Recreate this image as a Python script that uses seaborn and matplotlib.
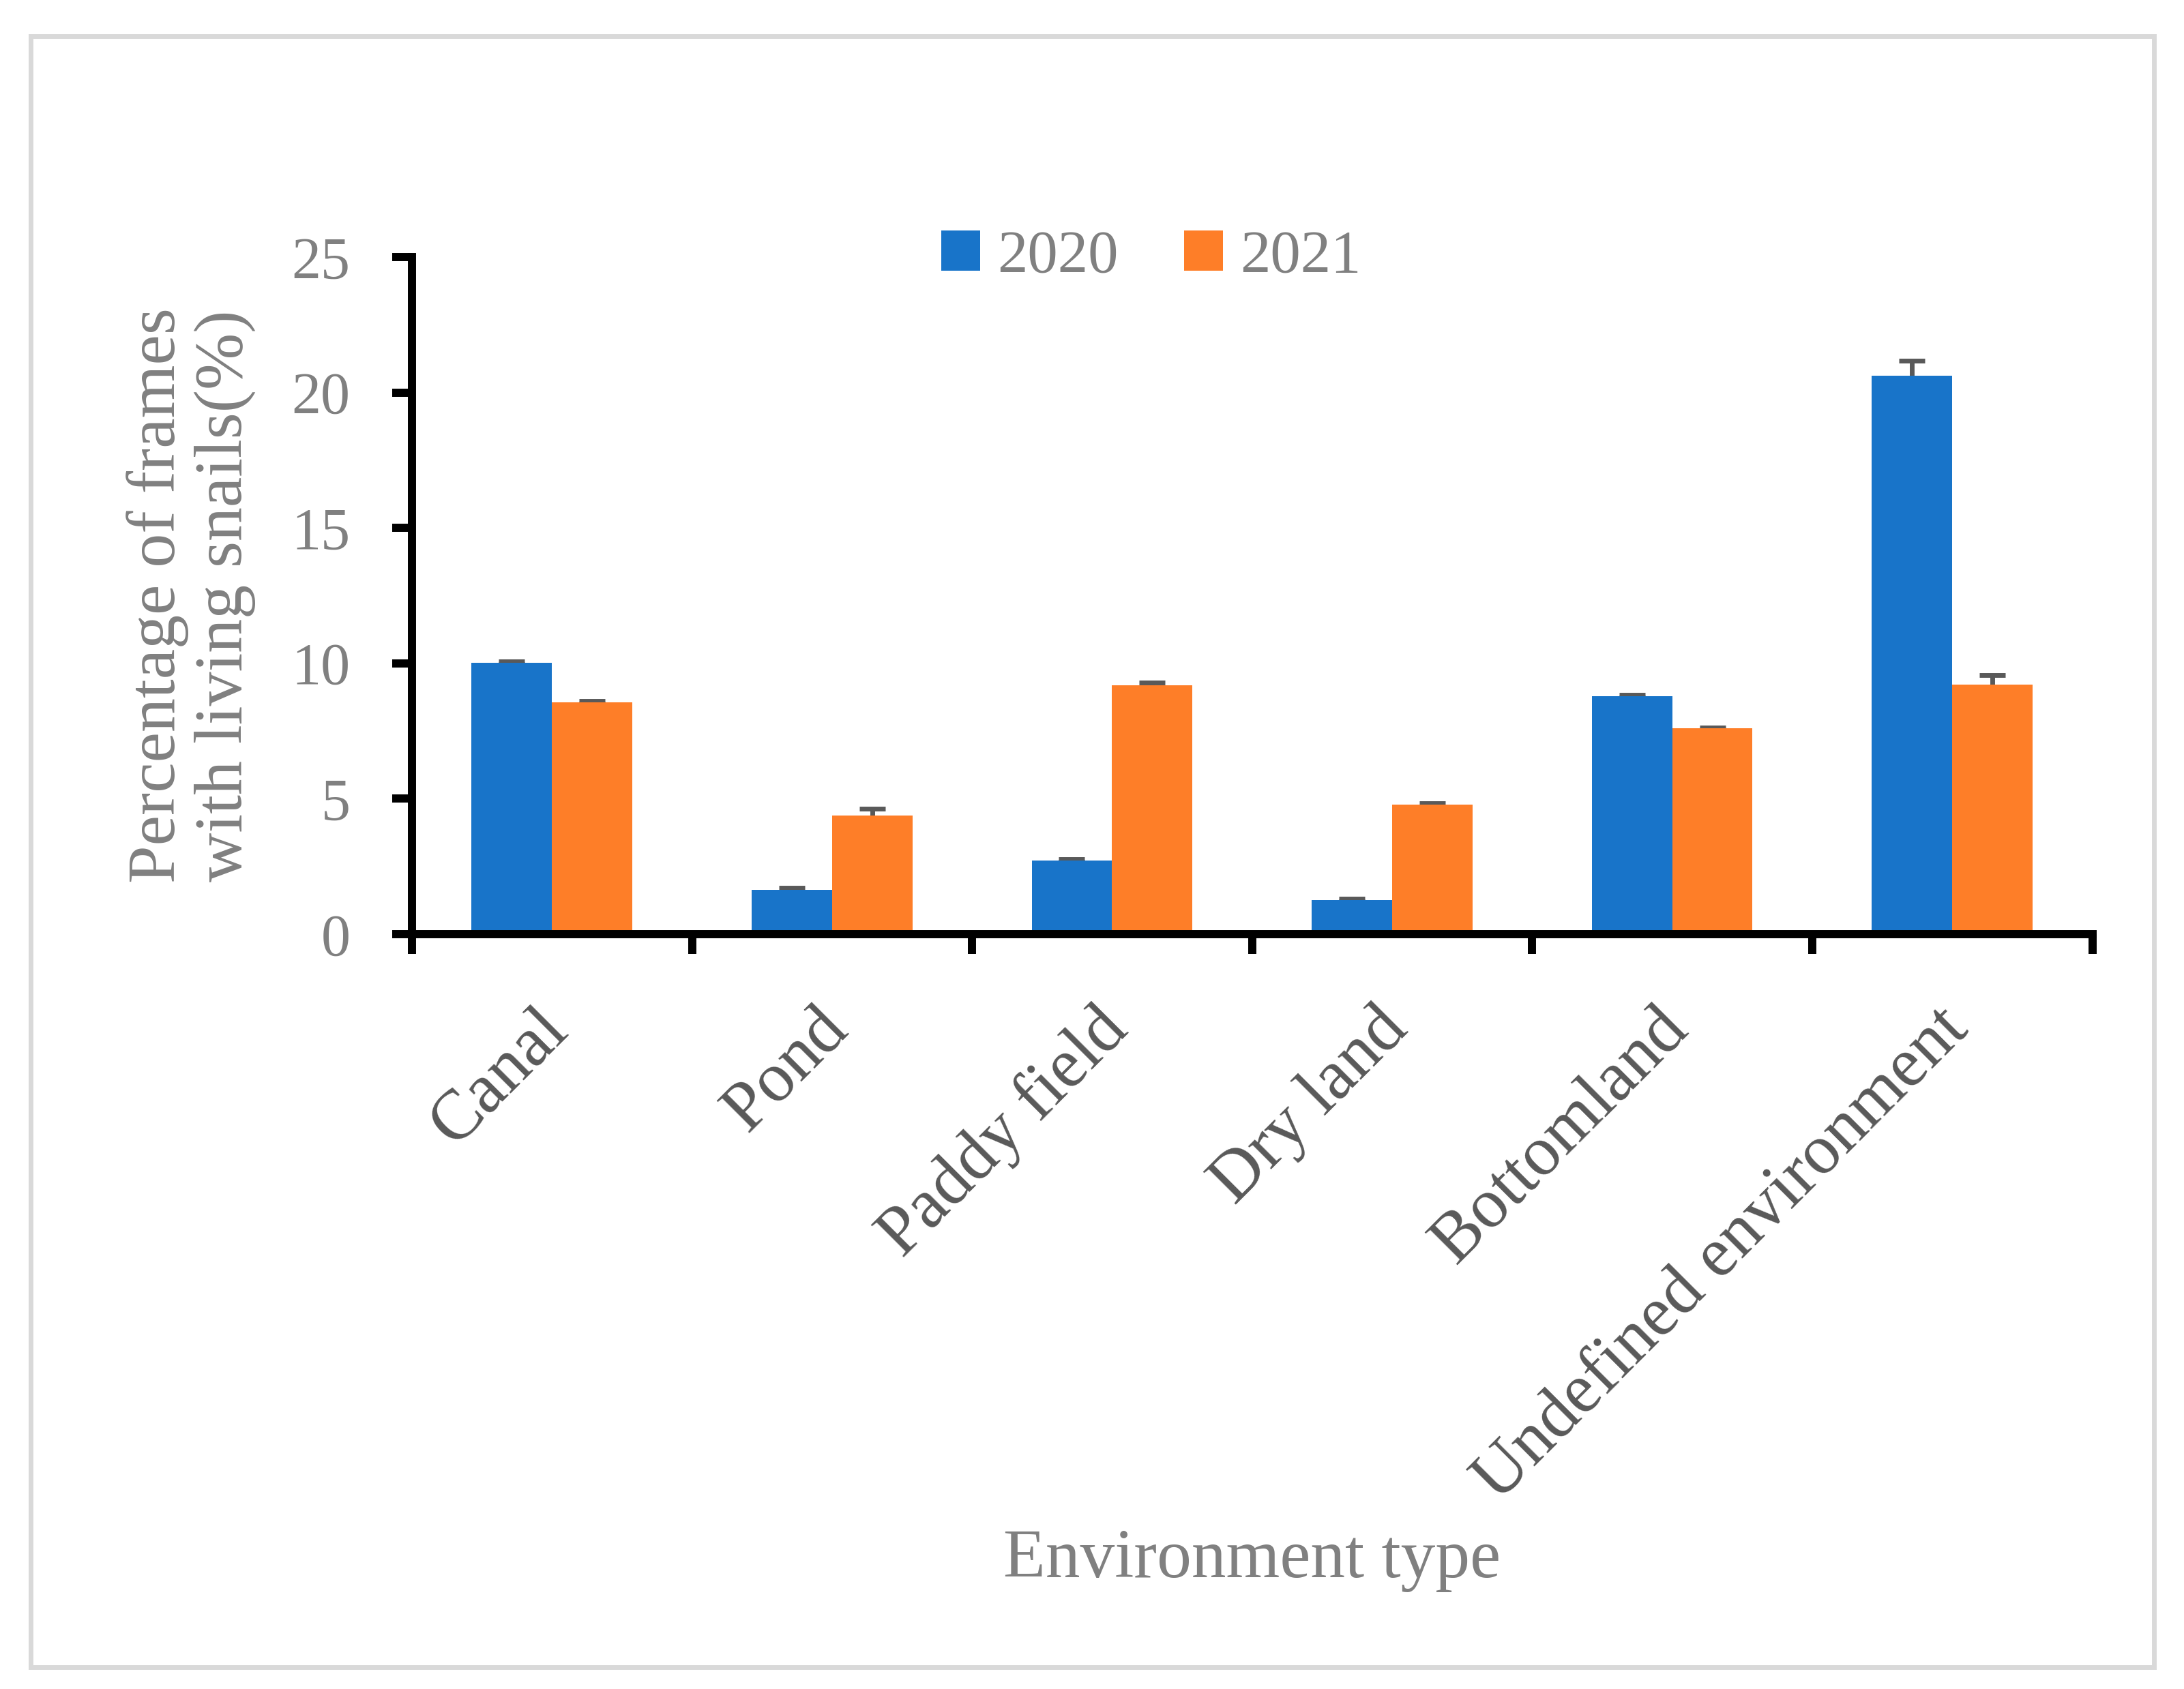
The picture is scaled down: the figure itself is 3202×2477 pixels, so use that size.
import numpy as np
import pandas as pd
import matplotlib
matplotlib.use("Agg")
import matplotlib.pyplot as plt
import seaborn as sns
from matplotlib.patches import Rectangle
from matplotlib.transforms import ScaledTranslation

# ---- data ----
categories = ["Canal", "Pond", "Paddy field", "Dry land", "Bottomland", "Undefined environment"]
years = ["2020", "2021"]
values_2020 = [10.02, 1.64, 2.73, 1.26, 8.79, 20.63]
values_2021 = [8.57, 4.39, 9.20, 4.78, 7.60, 9.22]
err_2020 = [0.06, 0.08, 0.05, 0.04, 0.05, 0.54]
err_2021 = [0.05, 0.24, 0.10, 0.06, 0.04, 0.34]
y_ticks = [0, 5, 10, 15, 20, 25]

df = pd.DataFrame({
    "Environment": categories * 2,
    "Year": [years[0]] * len(categories) + [years[1]] * len(categories),
    "Pct": values_2020 + values_2021,
})

BLUE = "#1874C9"
ORANGE = "#FE7E28"
GRAY = "#808080"
DARK = "#595959"

sns.set_style("white")
plt.rcParams["font.family"] = ["Liberation Serif", "DejaVu Serif"]

fig = plt.figure(figsize=(16.01, 12.385), dpi=200)
ax = fig.add_axes([0.1886, 0.4469, 0.7694, 0.4009])

sns.barplot(data=df, x="Environment", y="Pct", hue="Year", order=categories,
            hue_order=years, palette=[BLUE, ORANGE], width=0.574, gap=0,
            errorbar=None, saturation=1, linewidth=0, ax=ax)

# error bars (upper half visible above bars)
for cont, errs in zip(ax.containers, [err_2020, err_2021]):
    xs = [b.get_x() + b.get_width() / 2 for b in cont]
    hs = [b.get_height() for b in cont]
    ax.errorbar(xs, hs, yerr=errs, fmt="none", ecolor=DARK, elinewidth=2.5,
                capsize=7, capthick=2.5, zorder=0.9)

ax.set_xlim(-0.5, len(categories) - 0.5)
ax.set_ylim(0, 25)

for s in ["top", "right"]:
    ax.spines[s].set_visible(False)
for s in ["left", "bottom"]:
    ax.spines[s].set_linewidth(4.3)
    ax.spines[s].set_color("black")
ax.spines["left"].set_bounds(0, 25)

ax.set_yticks(y_ticks)
ax.set_yticklabels([str(t) for t in y_ticks])
ax.tick_params(axis="y", which="major", direction="out", length=10.5, width=4.3,
               color="black", labelsize=31, labelcolor=GRAY, pad=22, left=True)

ax.set_xticks(range(len(categories)))
ax.set_xticks(np.arange(-0.5, len(categories), 1.0), minor=True)
ax.set_xticklabels(categories, rotation=45, ha="right", va="top",
                   rotation_mode="anchor")
ax.tick_params(axis="x", which="major", length=0, labelsize=37,
               labelcolor=DARK, pad=33, bottom=True)
ax.tick_params(axis="x", which="minor", direction="out", length=10.5, width=4.3,
               color="black", bottom=True)
for lbl in ax.get_xticklabels():
    lbl.set_transform(lbl.get_transform() + ScaledTranslation(-0.125, 0, fig.dpi_scale_trans))

ax.set_xlabel("Environment type", fontsize=36.5, color=GRAY, va="center")
ax.xaxis.set_label_coords(0.5, -0.925)
ax.set_ylabel("Percentage of frames\nwith living snails(%)", fontsize=36,
              color=GRAY, va="center", linespacing=1.1)
ax.yaxis.set_label_coords(-0.1314, 0.5)

sns.move_legend(ax, "center", bbox_to_anchor=(0.44, 1.0), ncol=2, frameon=False,
                title=None, fontsize=32, labelcolor=GRAY, handlelength=0.64,
                handleheight=0.64, handletextpad=0.28, columnspacing=1.09,
                borderpad=0)

fig.add_artist(Rectangle((0.0142, 0.0129), 0.972, 0.9657, transform=fig.transFigure,
                         fill=False, edgecolor="#D9D9D9", linewidth=2.5))

fig.savefig("out.png", dpi=200, facecolor="white")
